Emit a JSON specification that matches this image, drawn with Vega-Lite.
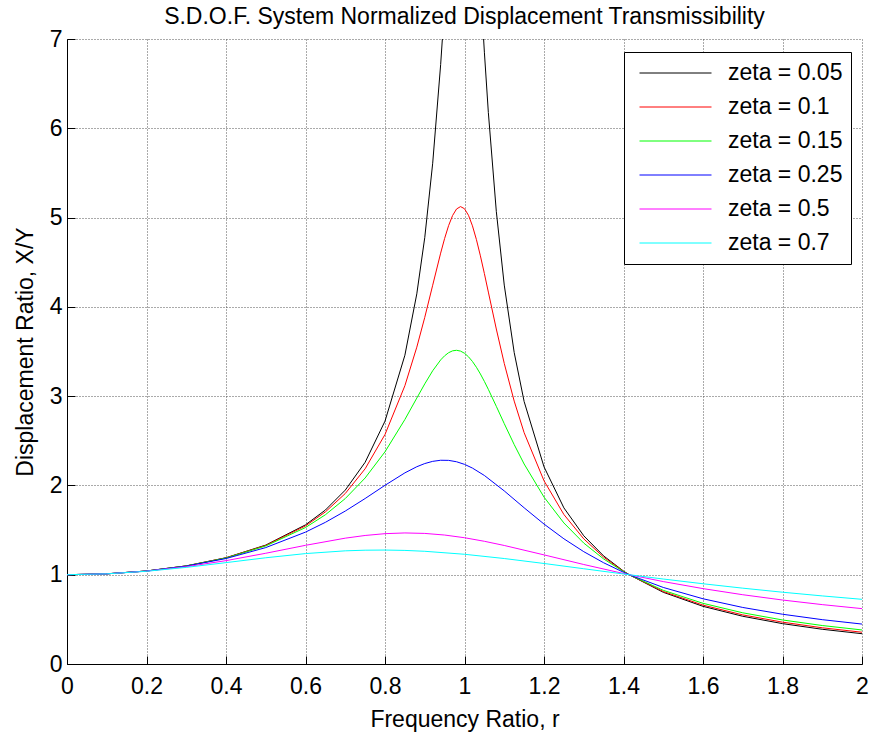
{
  "$schema": "https://vega.github.io/schema/vega-lite/v6.json",
  "width": 795,
  "height": 625,
  "autosize": {"type": "none"},
  "padding": {"left": 67, "top": 39, "right": 8, "bottom": 69},
  "background": "white",
  "title": {
    "text": "S.D.O.F. System Normalized Displacement Transmissibility",
    "font": "Liberation Sans",
    "fontSize": 23,
    "fontWeight": "normal",
    "color": "black",
    "anchor": "middle",
    "frame": "group",
    "offset": -1
  },
  "config": {
    "view": {"stroke": null},
    "axis": {
      "domainColor": "black",
      "domainWidth": 1,
      "tickColor": "black",
      "tickSize": -8,
      "tickWidth": 1,
      "labelFont": "Liberation Sans",
      "labelFontSize": 23,
      "labelColor": "black",
      "labelFlush": false,
      "labelOverlap": false,
      "titleFont": "Liberation Sans",
      "titleFontSize": 23,
      "titleFontWeight": "normal",
      "titleColor": "black",
      "grid": true,
      "gridColor": "#555555",
      "gridDash": [1, 2],
      "gridWidth": 1
    },
    "legend": {
      "orient": "none",
      "legendX": 557,
      "legendY": 13,
      "padding": 8,
      "strokeColor": "black",
      "fillColor": "white",
      "cornerRadius": 0,
      "symbolType": "stroke",
      "symbolSize": 5184,
      "symbolStrokeWidth": 1,
      "symbolOffset": 7,
      "clipHeight": 26,
      "rowPadding": 8,
      "labelOffset": 16,
      "labelFont": "Liberation Sans",
      "labelFontSize": 23,
      "labelColor": "black"
    }
  },
  "data": {
    "values": [
      {"z": "zeta = 0.05", "r": 0, "y": 1},
      {"z": "zeta = 0.05", "r": 0.1, "y": 1.0101},
      {"z": "zeta = 0.05", "r": 0.2, "y": 1.0416},
      {"z": "zeta = 0.05", "r": 0.3, "y": 1.0988},
      {"z": "zeta = 0.05", "r": 0.4, "y": 1.1901},
      {"z": "zeta = 0.05", "r": 0.5, "y": 1.332},
      {"z": "zeta = 0.05", "r": 0.6, "y": 1.5585},
      {"z": "zeta = 0.05", "r": 0.65, "y": 1.7244},
      {"z": "zeta = 0.05", "r": 0.7, "y": 1.9473},
      {"z": "zeta = 0.05", "r": 0.75, "y": 2.2591},
      {"z": "zeta = 0.05", "r": 0.8, "y": 2.7203},
      {"z": "zeta = 0.05", "r": 0.85, "y": 3.458},
      {"z": "zeta = 0.05", "r": 0.88, "y": 4.1456},
      {"z": "zeta = 0.05", "r": 0.9, "y": 4.7757},
      {"z": "zeta = 0.05", "r": 0.92, "y": 5.6088},
      {"z": "zeta = 0.05", "r": 0.94, "y": 6.7133},
      {"z": "zeta = 0.05", "r": 0.95, "y": 7.379},
      {"z": "zeta = 0.05", "r": 0.96, "y": 8.105},
      {"z": "zeta = 0.05", "r": 0.97, "y": 8.845},
      {"z": "zeta = 0.05", "r": 0.98, "y": 9.506},
      {"z": "zeta = 0.05", "r": 0.99, "y": 9.951},
      {"z": "zeta = 0.05", "r": 1.0, "y": 10.05},
      {"z": "zeta = 0.05", "r": 1.01, "y": 9.76},
      {"z": "zeta = 0.05", "r": 1.02, "y": 9.162},
      {"z": "zeta = 0.05", "r": 1.03, "y": 8.401},
      {"z": "zeta = 0.05", "r": 1.04, "y": 7.606},
      {"z": "zeta = 0.05", "r": 1.05, "y": 6.852},
      {"z": "zeta = 0.05", "r": 1.06, "y": 6.176},
      {"z": "zeta = 0.05", "r": 1.08, "y": 5.07},
      {"z": "zeta = 0.05", "r": 1.1, "y": 4.2437},
      {"z": "zeta = 0.05", "r": 1.125, "y": 3.4885},
      {"z": "zeta = 0.05", "r": 1.15, "y": 2.9398},
      {"z": "zeta = 0.05", "r": 1.2, "y": 2.2084},
      {"z": "zeta = 0.05", "r": 1.25, "y": 1.7489},
      {"z": "zeta = 0.05", "r": 1.3, "y": 1.4362},
      {"z": "zeta = 0.05", "r": 1.35, "y": 1.2106},
      {"z": "zeta = 0.05", "r": 1.4, "y": 1.0408},
      {"z": "zeta = 0.05", "r": 1.4142, "y": 1},
      {"z": "zeta = 0.05", "r": 1.5, "y": 0.8032},
      {"z": "zeta = 0.05", "r": 1.6, "y": 0.6458},
      {"z": "zeta = 0.05", "r": 1.7, "y": 0.5345},
      {"z": "zeta = 0.05", "r": 1.8, "y": 0.4521},
      {"z": "zeta = 0.05", "r": 1.9, "y": 0.389},
      {"z": "zeta = 0.05", "r": 2.0, "y": 0.3392},

      {"z": "zeta = 0.1", "r": 0, "y": 1},
      {"z": "zeta = 0.1", "r": 0.1, "y": 1.0101},
      {"z": "zeta = 0.1", "r": 0.2, "y": 1.0416},
      {"z": "zeta = 0.1", "r": 0.3, "y": 1.0985},
      {"z": "zeta = 0.1", "r": 0.4, "y": 1.1889},
      {"z": "zeta = 0.1", "r": 0.5, "y": 1.3282},
      {"z": "zeta = 0.1", "r": 0.6, "y": 1.5468},
      {"z": "zeta = 0.1", "r": 0.65, "y": 1.7035},
      {"z": "zeta = 0.1", "r": 0.7, "y": 1.9093},
      {"z": "zeta = 0.1", "r": 0.75, "y": 2.1863},
      {"z": "zeta = 0.1", "r": 0.8, "y": 2.5707},
      {"z": "zeta = 0.1", "r": 0.85, "y": 3.1169},
      {"z": "zeta = 0.1", "r": 0.88, "y": 3.5486},
      {"z": "zeta = 0.1", "r": 0.9, "y": 3.8822},
      {"z": "zeta = 0.1", "r": 0.92, "y": 4.2422},
      {"z": "zeta = 0.1", "r": 0.94, "y": 4.6017},
      {"z": "zeta = 0.1", "r": 0.95, "y": 4.7664},
      {"z": "zeta = 0.1", "r": 0.96, "y": 4.9099},
      {"z": "zeta = 0.1", "r": 0.97, "y": 5.0228},
      {"z": "zeta = 0.1", "r": 0.98, "y": 5.0962},
      {"z": "zeta = 0.1", "r": 0.99, "y": 5.1228},
      {"z": "zeta = 0.1", "r": 1.0, "y": 5.099},
      {"z": "zeta = 0.1", "r": 1.01, "y": 5.0257},
      {"z": "zeta = 0.1", "r": 1.02, "y": 4.9076},
      {"z": "zeta = 0.1", "r": 1.03, "y": 4.7529},
      {"z": "zeta = 0.1", "r": 1.04, "y": 4.5714},
      {"z": "zeta = 0.1", "r": 1.05, "y": 4.3727},
      {"z": "zeta = 0.1", "r": 1.06, "y": 4.1655},
      {"z": "zeta = 0.1", "r": 1.08, "y": 3.7521},
      {"z": "zeta = 0.1", "r": 1.1, "y": 3.3666},
      {"z": "zeta = 0.1", "r": 1.125, "y": 2.9445},
      {"z": "zeta = 0.1", "r": 1.15, "y": 2.5904},
      {"z": "zeta = 0.1", "r": 1.2, "y": 2.0519},
      {"z": "zeta = 0.1", "r": 1.25, "y": 1.6745},
      {"z": "zeta = 0.1", "r": 1.3, "y": 1.4013},
      {"z": "zeta = 0.1", "r": 1.35, "y": 1.1965},
      {"z": "zeta = 0.1", "r": 1.4, "y": 1.0385},
      {"z": "zeta = 0.1", "r": 1.4142, "y": 1},
      {"z": "zeta = 0.1", "r": 1.5, "y": 0.8122},
      {"z": "zeta = 0.1", "r": 1.6, "y": 0.6593},
      {"z": "zeta = 0.1", "r": 1.7, "y": 0.55},
      {"z": "zeta = 0.1", "r": 1.8, "y": 0.4685},
      {"z": "zeta = 0.1", "r": 1.9, "y": 0.4056},
      {"z": "zeta = 0.1", "r": 2.0, "y": 0.3559},

      {"z": "zeta = 0.15", "r": 0, "y": 1},
      {"z": "zeta = 0.15", "r": 0.1, "y": 1.0101},
      {"z": "zeta = 0.15", "r": 0.2, "y": 1.0415},
      {"z": "zeta = 0.15", "r": 0.3, "y": 1.098},
      {"z": "zeta = 0.15", "r": 0.4, "y": 1.187},
      {"z": "zeta = 0.15", "r": 0.5, "y": 1.3221},
      {"z": "zeta = 0.15", "r": 0.6, "y": 1.5283},
      {"z": "zeta = 0.15", "r": 0.65, "y": 1.6715},
      {"z": "zeta = 0.15", "r": 0.7, "y": 1.8526},
      {"z": "zeta = 0.15", "r": 0.75, "y": 2.0835},
      {"z": "zeta = 0.15", "r": 0.8, "y": 2.3769},
      {"z": "zeta = 0.15", "r": 0.85, "y": 2.7384},
      {"z": "zeta = 0.15", "r": 0.88, "y": 2.9784},
      {"z": "zeta = 0.15", "r": 0.9, "y": 3.1374},
      {"z": "zeta = 0.15", "r": 0.92, "y": 3.2843},
      {"z": "zeta = 0.15", "r": 0.94, "y": 3.4057},
      {"z": "zeta = 0.15", "r": 0.95, "y": 3.4521},
      {"z": "zeta = 0.15", "r": 0.96, "y": 3.4865},
      {"z": "zeta = 0.15", "r": 0.97, "y": 3.5074},
      {"z": "zeta = 0.15", "r": 0.98, "y": 3.5136},
      {"z": "zeta = 0.15", "r": 0.99, "y": 3.5045},
      {"z": "zeta = 0.15", "r": 1.0, "y": 3.4801},
      {"z": "zeta = 0.15", "r": 1.01, "y": 3.441},
      {"z": "zeta = 0.15", "r": 1.02, "y": 3.3882},
      {"z": "zeta = 0.15", "r": 1.03, "y": 3.3233},
      {"z": "zeta = 0.15", "r": 1.04, "y": 3.2483},
      {"z": "zeta = 0.15", "r": 1.05, "y": 3.165},
      {"z": "zeta = 0.15", "r": 1.06, "y": 3.0757},
      {"z": "zeta = 0.15", "r": 1.08, "y": 2.886},
      {"z": "zeta = 0.15", "r": 1.1, "y": 2.6922},
      {"z": "zeta = 0.15", "r": 1.125, "y": 2.4574},
      {"z": "zeta = 0.15", "r": 1.15, "y": 2.2399},
      {"z": "zeta = 0.15", "r": 1.2, "y": 1.8695},
      {"z": "zeta = 0.15", "r": 1.25, "y": 1.5798},
      {"z": "zeta = 0.15", "r": 1.3, "y": 1.3542},
      {"z": "zeta = 0.15", "r": 1.35, "y": 1.1768},
      {"z": "zeta = 0.15", "r": 1.4, "y": 1.0351},
      {"z": "zeta = 0.15", "r": 1.4142, "y": 1},
      {"z": "zeta = 0.15", "r": 1.5, "y": 0.8254},
      {"z": "zeta = 0.15", "r": 1.6, "y": 0.6796},
      {"z": "zeta = 0.15", "r": 1.7, "y": 0.5734},
      {"z": "zeta = 0.15", "r": 1.8, "y": 0.4932},
      {"z": "zeta = 0.15", "r": 1.9, "y": 0.4309},
      {"z": "zeta = 0.15", "r": 2.0, "y": 0.3812},

      {"z": "zeta = 0.25", "r": 0, "y": 1},
      {"z": "zeta = 0.25", "r": 0.1, "y": 1.0101},
      {"z": "zeta = 0.25", "r": 0.2, "y": 1.0412},
      {"z": "zeta = 0.25", "r": 0.3, "y": 1.0964},
      {"z": "zeta = 0.25", "r": 0.4, "y": 1.181},
      {"z": "zeta = 0.25", "r": 0.5, "y": 1.3038},
      {"z": "zeta = 0.25", "r": 0.6, "y": 1.4771},
      {"z": "zeta = 0.25", "r": 0.65, "y": 1.5867},
      {"z": "zeta = 0.25", "r": 0.7, "y": 1.7129},
      {"z": "zeta = 0.25", "r": 0.75, "y": 1.8534},
      {"z": "zeta = 0.25", "r": 0.8, "y": 2.0014},
      {"z": "zeta = 0.25", "r": 0.85, "y": 2.1407},
      {"z": "zeta = 0.25", "r": 0.88, "y": 2.2095},
      {"z": "zeta = 0.25", "r": 0.9, "y": 2.245},
      {"z": "zeta = 0.25", "r": 0.92, "y": 2.2697},
      {"z": "zeta = 0.25", "r": 0.94, "y": 2.282},
      {"z": "zeta = 0.25", "r": 0.96, "y": 2.2807},
      {"z": "zeta = 0.25", "r": 0.98, "y": 2.2652},
      {"z": "zeta = 0.25", "r": 1.0, "y": 2.2361},
      {"z": "zeta = 0.25", "r": 1.02, "y": 2.1942},
      {"z": "zeta = 0.25", "r": 1.05, "y": 2.1114},
      {"z": "zeta = 0.25", "r": 1.1, "y": 1.9385},
      {"z": "zeta = 0.25", "r": 1.15, "y": 1.7497},
      {"z": "zeta = 0.25", "r": 1.2, "y": 1.5674},
      {"z": "zeta = 0.25", "r": 1.25, "y": 1.4024},
      {"z": "zeta = 0.25", "r": 1.3, "y": 1.2582},
      {"z": "zeta = 0.25", "r": 1.35, "y": 1.1339},
      {"z": "zeta = 0.25", "r": 1.4, "y": 1.0274},
      {"z": "zeta = 0.25", "r": 1.4142, "y": 1},
      {"z": "zeta = 0.25", "r": 1.5, "y": 0.8575},
      {"z": "zeta = 0.25", "r": 1.6, "y": 0.7305},
      {"z": "zeta = 0.25", "r": 1.7, "y": 0.6333},
      {"z": "zeta = 0.25", "r": 1.8, "y": 0.5573},
      {"z": "zeta = 0.25", "r": 1.9, "y": 0.4966},
      {"z": "zeta = 0.25", "r": 2.0, "y": 0.4472},

      {"z": "zeta = 0.5", "r": 0, "y": 1},
      {"z": "zeta = 0.5", "r": 0.1, "y": 1.01},
      {"z": "zeta = 0.5", "r": 0.2, "y": 1.04},
      {"z": "zeta = 0.5", "r": 0.3, "y": 1.0896},
      {"z": "zeta = 0.5", "r": 0.4, "y": 1.1576},
      {"z": "zeta = 0.5", "r": 0.5, "y": 1.2403},
      {"z": "zeta = 0.5", "r": 0.6, "y": 1.3293},
      {"z": "zeta = 0.5", "r": 0.7, "y": 1.4094},
      {"z": "zeta = 0.5", "r": 0.75, "y": 1.4395},
      {"z": "zeta = 0.5", "r": 0.8, "y": 1.4598},
      {"z": "zeta = 0.5", "r": 0.85, "y": 1.4678},
      {"z": "zeta = 0.5", "r": 0.9, "y": 1.4626},
      {"z": "zeta = 0.5", "r": 0.95, "y": 1.4443},
      {"z": "zeta = 0.5", "r": 1.0, "y": 1.4142},
      {"z": "zeta = 0.5", "r": 1.05, "y": 1.3744},
      {"z": "zeta = 0.5", "r": 1.1, "y": 1.3275},
      {"z": "zeta = 0.5", "r": 1.2, "y": 1.2222},
      {"z": "zeta = 0.5", "r": 1.3, "y": 1.1144},
      {"z": "zeta = 0.5", "r": 1.4, "y": 1.0135},
      {"z": "zeta = 0.5", "r": 1.4142, "y": 1},
      {"z": "zeta = 0.5", "r": 1.5, "y": 0.9233},
      {"z": "zeta = 0.5", "r": 1.6, "y": 0.8443},
      {"z": "zeta = 0.5", "r": 1.7, "y": 0.7759},
      {"z": "zeta = 0.5", "r": 1.8, "y": 0.7166},
      {"z": "zeta = 0.5", "r": 1.9, "y": 0.6651},
      {"z": "zeta = 0.5", "r": 2.0, "y": 0.6202},

      {"z": "zeta = 0.7", "r": 0, "y": 1},
      {"z": "zeta = 0.7", "r": 0.1, "y": 1.0099},
      {"z": "zeta = 0.7", "r": 0.2, "y": 1.0385},
      {"z": "zeta = 0.7", "r": 0.3, "y": 1.0822},
      {"z": "zeta = 0.7", "r": 0.4, "y": 1.1353},
      {"z": "zeta = 0.7", "r": 0.5, "y": 1.1898},
      {"z": "zeta = 0.7", "r": 0.6, "y": 1.2367},
      {"z": "zeta = 0.7", "r": 0.7, "y": 1.2674},
      {"z": "zeta = 0.7", "r": 0.75, "y": 1.2747},
      {"z": "zeta = 0.7", "r": 0.8, "y": 1.2763},
      {"z": "zeta = 0.7", "r": 0.85, "y": 1.2721},
      {"z": "zeta = 0.7", "r": 0.9, "y": 1.2624},
      {"z": "zeta = 0.7", "r": 1.0, "y": 1.2289},
      {"z": "zeta = 0.7", "r": 1.1, "y": 1.1814},
      {"z": "zeta = 0.7", "r": 1.2, "y": 1.1258},
      {"z": "zeta = 0.7", "r": 1.3, "y": 1.0669},
      {"z": "zeta = 0.7", "r": 1.4, "y": 1.0082},
      {"z": "zeta = 0.7", "r": 1.4142, "y": 1},
      {"z": "zeta = 0.7", "r": 1.5, "y": 0.9518},
      {"z": "zeta = 0.7", "r": 1.6, "y": 0.8987},
      {"z": "zeta = 0.7", "r": 1.7, "y": 0.8494},
      {"z": "zeta = 0.7", "r": 1.8, "y": 0.8041},
      {"z": "zeta = 0.7", "r": 1.9, "y": 0.7626},
      {"z": "zeta = 0.7", "r": 2.0, "y": 0.7245}
    ]
  },
  "mark": {"type": "line", "strokeWidth": 1, "clip": true},
  "encoding": {
    "x": {
      "field": "r",
      "type": "quantitative",
      "scale": {"domain": [0, 2], "nice": false, "zero": false},
      "axis": {
        "title": "Frequency Ratio, r",
        "values": [0, 0.2, 0.4, 0.6, 0.8, 1, 1.2, 1.4, 1.6, 1.8, 2],
        "format": "~g",
        "labelPadding": 19,
        "titlePadding": 10
      }
    },
    "y": {
      "field": "y",
      "type": "quantitative",
      "scale": {"domain": [0, 7], "nice": false},
      "axis": {
        "title": "Displacement Ratio, X/Y",
        "values": [0, 1, 2, 3, 4, 5, 6, 7],
        "format": "~g",
        "labelPadding": 13,
        "titlePadding": 12
      }
    },
    "color": {
      "field": "z",
      "type": "nominal",
      "sort": null,
      "scale": {
        "domain": ["zeta = 0.05", "zeta = 0.1", "zeta = 0.15", "zeta = 0.25", "zeta = 0.5", "zeta = 0.7"],
        "range": ["#000000", "#ff0000", "#00ff00", "#0000ff", "#ff00ff", "#00ffff"]
      },
      "legend": {"title": null}
    }
  }
}
